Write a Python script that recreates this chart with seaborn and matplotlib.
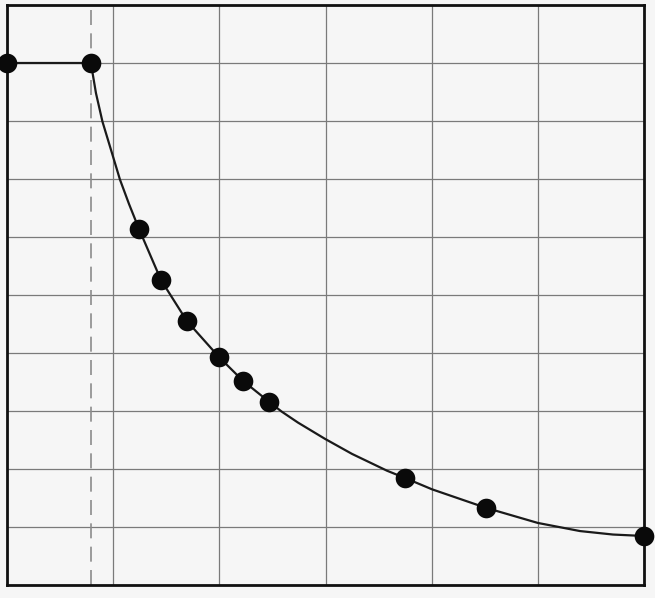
import matplotlib
matplotlib.use("Agg")
import matplotlib.pyplot as plt
import seaborn as sns
import pandas as pd

# marker positions (grid units)
point_x = [0.0, 0.79, 1.243, 1.45, 1.695, 1.997, 2.223, 2.468, 3.749, 4.512, 6.0]
point_y = [9.0, 9.0, 6.14, 5.26, 4.55, 3.93, 3.52, 3.16, 1.845, 1.33, 0.845]

# curve trace
curve_x = [0.0, 0.79, 0.838, 0.899, 0.980, 1.064, 1.149, 1.243, 1.45, 1.695,
           1.997, 2.223, 2.468, 2.587, 2.741, 2.995, 3.25, 3.58, 3.749,
           4.003, 4.512, 5.0, 5.397, 5.708, 6.0]
curve_y = [9.0, 9.0, 8.48, 7.99, 7.50, 6.99, 6.57, 6.14, 5.26, 4.55,
           3.93, 3.52, 3.16, 2.99, 2.80, 2.52, 2.26, 1.97, 1.845,
           1.65, 1.33, 1.07, 0.93, 0.87, 0.845]

threshold_x = 0.79

bg = '#f6f6f6'
sns.set_style("whitegrid", {"axes.facecolor": bg, "figure.facecolor": bg,
                            "grid.color": "#7a7a7a", "axes.edgecolor": "#111111"})

fig = plt.figure(figsize=(6.55, 5.98), dpi=100)
ax = fig.add_axes([7 / 655, 13 / 598, 637 / 655, 580 / 598])

curve = pd.DataFrame({'x': curve_x, 'y': curve_y})
pts = pd.DataFrame({'x': point_x, 'y': point_y})

ax.axvline(threshold_x, color='#8c8c8c', linestyle=(0, (9, 5)), linewidth=1.2, zorder=1)
sns.lineplot(data=curve, x='x', y='y', ax=ax, color='#1a1a1a', linewidth=1.6,
             sort=False, estimator=None, zorder=3)
sns.scatterplot(data=pts, x='x', y='y', ax=ax, color='#0a0a0a', s=200,
                edgecolor='#0a0a0a', linewidth=0, zorder=4, clip_on=False)

ax.set_xlim(0, 6)
ax.set_ylim(0, 10)
ax.set_xticks(range(0, 7))
ax.set_yticks(range(0, 11))
ax.grid(True, linewidth=0.9, color='#7a7a7a')
ax.tick_params(length=0, labelbottom=False, labelleft=False)
ax.set_xlabel('')
ax.set_ylabel('')
for s in ax.spines.values():
    s.set_linewidth(2.0)
    s.set_color('#111111')

fig.savefig('out.png', dpi=100, facecolor=bg)
